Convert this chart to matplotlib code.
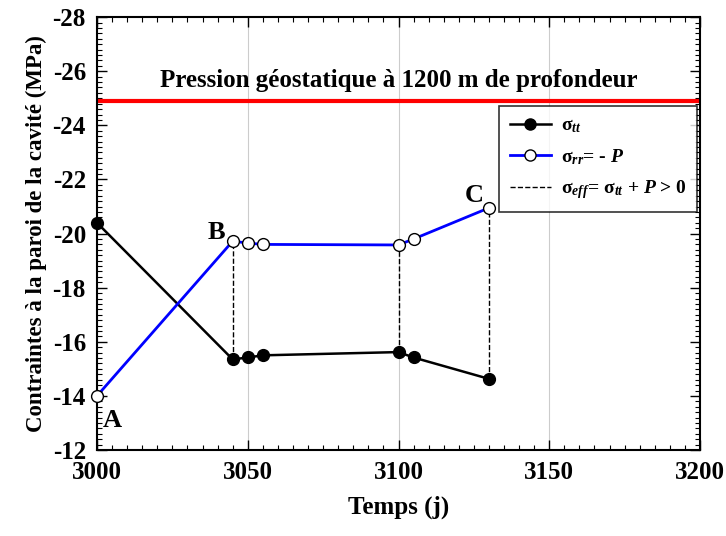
import matplotlib
matplotlib.use("Agg")
import matplotlib.pyplot as plt
from matplotlib.ticker import MultipleLocator
from matplotlib.lines import Line2D

plt.rcParams['font.family'] = ['Liberation Serif', 'DejaVu Serif']
plt.rcParams['font.weight'] = 'bold'
plt.rcParams['axes.unicode_minus'] = False
plt.rcParams['mathtext.fontset'] = 'custom'
plt.rcParams['mathtext.rm'] = 'Liberation Serif:bold'
plt.rcParams['mathtext.it'] = 'Liberation Serif:italic:bold'
plt.rcParams['mathtext.bf'] = 'Liberation Serif:bold'

# Data
time = [3000, 3045, 3050, 3055, 3100, 3105, 3130]
sigma_tt = [-20.4, -15.35, -15.42, -15.5, -15.62, -15.42, -14.63]
sigma_rr = [-14.0, -19.72, -19.65, -19.6, -19.58, -19.8, -20.95]
dash_times = [3045, 3100, 3130]
geostatic = -24.9
point_labels = ['A', 'B', 'C']
point_label_x = [3005, 3039.5, 3125]
point_label_y = [-13.1, -20.05, -21.4]

fig = plt.figure(figsize=(7.26, 5.36), dpi=100)
ax = fig.add_axes([0.1336, 0.1604, 0.8306, 0.8076])

ax.axhline(geostatic, color='#ff0000', lw=3, zorder=2)
ax.text(3100, -25.65, 'Pression géostatique à 1200 m de profondeur', ha='center', va='center',
        fontsize=18, fontweight='bold')

for t in dash_times:
    i = time.index(t)
    ax.plot([t, t], [sigma_tt[i], sigma_rr[i]], color='black', ls='--', lw=1, zorder=3)

ax.plot(time, sigma_tt, color='black', lw=1.8, marker='o', ms=8.5, mfc='black', mec='black',
        zorder=5, clip_on=False)
ax.plot(time, sigma_rr, color='#0000ff', lw=2, marker='o', ms=8.5, mfc='white', mec='black', mew=1,
        zorder=5, clip_on=False)

for lab, lx, ly in zip(point_labels, point_label_x, point_label_y):
    ax.text(lx, ly, lab, ha='center', va='center', fontsize=19, fontweight='bold')

ax.set_xlim(3000, 3200)
ax.set_ylim(-12, -28)
ax.xaxis.set_major_locator(MultipleLocator(50))
ax.xaxis.set_minor_locator(MultipleLocator(5))
ax.yaxis.set_major_locator(MultipleLocator(2))
ax.yaxis.set_minor_locator(MultipleLocator(0.2))
ax.tick_params(which='both', direction='in', top=True, right=True, labelsize=18, pad=8)
ax.tick_params(which='major', length=7, width=1)
ax.tick_params(which='minor', length=3.5, width=0.8)
ax.grid(axis='x', which='major', color='#cccccc', lw=0.8)
ax.set_axisbelow(True)
for s in ax.spines.values():
    s.set_linewidth(1.5)

ax.set_xlabel('Temps (j)', fontsize=18, fontweight='bold', labelpad=8)
ax.set_ylabel('Contraintes à la paroi de la cavité (MPa)', fontsize=16.5, fontweight='bold', labelpad=4)

handles = [
    Line2D([], [], color='black', lw=1.8, marker='o', ms=8, mfc='black', mec='black'),
    Line2D([], [], color='#0000ff', lw=2, marker='o', ms=8, mfc='white', mec='black'),
    Line2D([], [], color='black', lw=1, ls='--'),
]
labels = ['σ$_{tt}$', 'σ$_{rr}$= - $P$', 'σ$_{eff}$= σ$_{tt}$ + $P$ > 0']
leg = ax.legend(handles, labels, loc='upper right', bbox_to_anchor=(0.995, 0.794),
                prop={'family': 'Liberation Serif', 'size': 14, 'weight': 'bold'},
                frameon=True, fancybox=False, edgecolor='black', handlelength=2.1,
                handletextpad=0.5, borderpad=0.55, labelspacing=0.6, borderaxespad=0)
leg.get_frame().set_linewidth(1.2)

fig.savefig('out.png', dpi=100)
